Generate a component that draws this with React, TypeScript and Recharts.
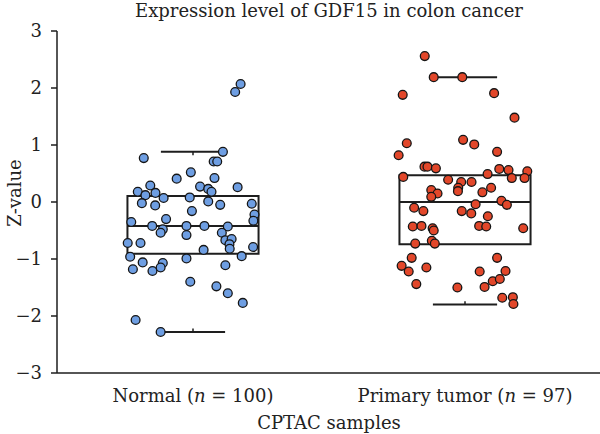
import React from "react";
import {
  ScatterChart,
  Scatter,
  XAxis,
  YAxis,
  ReferenceArea,
  ReferenceLine,
  Label,
} from "recharts";

// Sample groups shown along the x axis
const categories = ["Normal", "Primary tumor"];
const sampleSizes = [100, 97];
const categoryCenters = [0.5, 1.5];

// Y axis ticks
const yTicks = [-3, -2, -1, 0, 1, 2, 3];

// Normal tissue: horizontal jitter (category units) and z-values
const normalJitter = [
  0.175, 0.155, 0.11, -0.181, 0.076, 0.089, -0.008, -0.06, 0.079, -0.157,
  -0.203, -0.175, -0.138, -0.108, 0.026, 0.056, 0.068, 0.164, -0.012, -0.188,
  -0.139, 0.056, 0.1, 0.216, -0.004, 0.226, 0.222, -0.227, -0.099, -0.15,
  -0.024, 0.042, 0.128, -0.111, -0.119, 0.106, -0.024, -0.24, -0.193, 0.119,
  0.142, 0.134, 0.135, 0.221, 0.039, -0.231, -0.024, 0.179, -0.185, -0.111,
  -0.221, -0.149, -0.119, 0.119, -0.01, 0.086, 0.128, 0.183, -0.211, -0.119,
];
const normalZ = [
  2.07, 1.93, 0.88, 0.77, 0.71, 0.71, 0.52, 0.41, 0.42, 0.29,
  0.18, 0.12, 0.16, 0.07, 0.27, 0.23, 0.18, 0.26, 0.08, -0.02,
  -0.06, 0.01, -0.05, -0.03, -0.16, -0.22, -0.33, -0.35, -0.3, -0.42,
  -0.42, -0.42, -0.43, -0.48, -0.54, -0.54, -0.58, -0.72, -0.72, -0.67,
  -0.65, -0.74, -0.82, -0.79, -0.84, -0.96, -0.99, -0.95, -1.06, -1.07,
  -1.18, -1.21, -1.15, -1.11, -1.4, -1.48, -1.6, -1.77, -2.07, -2.28,
];

// Primary tumor: horizontal jitter (category units) and z-values
const tumorJitter = [
  -0.148, -0.115, -0.01, -0.229, 0.107, 0.182, -0.214, -0.244, -0.007, 0.034,
  0.118, -0.149, -0.138, -0.107, 0.126, 0.16, 0.229, -0.227, 0.083, 0.172,
  0.219, -0.062, -0.014, 0.024, -0.025, -0.026, -0.124, -0.101, -0.124, 0.064,
  0.096, 0.134, 0.154, 0.039, -0.187, -0.153, -0.012, 0.023, 0.084, -0.192,
  -0.16, -0.119, -0.115, 0.052, 0.078, 0.214, -0.122, -0.111, -0.183, -0.196,
  0.118, -0.233, -0.207, -0.142, 0.054, 0.149, 0.102, 0.128, -0.179, -0.028,
  0.072, 0.137, 0.176, 0.178,
];
const tumorZ = [
  2.56, 2.19, 2.19, 1.88, 1.91, 1.48, 1.03, 0.82, 1.09, 1.01,
  0.88, 0.62, 0.62, 0.59, 0.58, 0.56, 0.54, 0.44, 0.49, 0.42,
  0.42, 0.39, 0.35, 0.35, 0.25, 0.19, 0.21, 0.15, 0.09, 0.17,
  0.25, 0.02, -0.05, -0.04, -0.1, -0.16, -0.16, -0.2, -0.25, -0.43,
  -0.42, -0.46, -0.5, -0.42, -0.43, -0.46, -0.68, -0.73, -0.73, -0.98,
  -0.98, -1.12, -1.22, -1.15, -1.22, -1.21, -1.39, -1.35, -1.44, -1.5,
  -1.49, -1.68, -1.67, -1.79,
];

// Box summaries: [lower whisker, Q1, median, Q3, upper whisker]
const normalBox = [-2.28, -0.91, -0.42, 0.105, 0.88];
const tumorBox = [-1.8, -0.74, 0.0, 0.47, 2.19];

const BOX_HALF = 0.241;
const CAP_HALF = 0.118;
const CAP_TICK = 0.06;

const FONT = "'DejaVu Serif', serif";
const FONT_SIZE = 18;
const INK = "#1e1e1e";

const toPoints = (center: number, jitter: number[], z: number[]) =>
  z.map((v, i) => ({ x: center + jitter[i], y: v }));

const normalData = toPoints(categoryCenters[0], normalJitter, normalZ);
const tumorData = toPoints(categoryCenters[1], tumorJitter, tumorZ);

const dot = (fill: string) => (props: any) =>
  (
    <circle
      cx={props.cx}
      cy={props.cy}
      r={4.4}
      fill={fill}
      stroke="#151515"
      strokeWidth={1.3}
    />
  );

const fmtY = (v: number) => (v < 0 ? `\u2212${Math.abs(v)}` : `${v}`);

const XTick = (props: any) => {
  const { x, y, payload } = props;
  const idx = categoryCenters.indexOf(payload.value);
  if (idx < 0) return null;
  return (
    <text
      x={x}
      y={y}
      dy={21}
      textAnchor="middle"
      fill="#222"
      fontSize={FONT_SIZE}
      fontFamily={FONT}
    >
      {categories[idx]} (<tspan fontStyle="italic">n</tspan> = {sampleSizes[idx]})
    </text>
  );
};

const boxElements = (center: number, box: number[], key: string) => {
  const [lo, q1, med, q3, hi] = box;
  const line = { stroke: INK, strokeWidth: 2 };
  return [
    <ReferenceArea
      key={`${key}-box`}
      x1={center - BOX_HALF}
      x2={center + BOX_HALF}
      y1={q1}
      y2={q3}
      fill="none"
      fillOpacity={0}
      stroke={INK}
      strokeWidth={2}
      strokeOpacity={1}
    />,
    <ReferenceLine
      key={`${key}-med`}
      segment={[
        { x: center - BOX_HALF, y: med },
        { x: center + BOX_HALF, y: med },
      ]}
      {...line}
    />,
    <ReferenceLine
      key={`${key}-hi`}
      segment={[
        { x: center - CAP_HALF, y: hi },
        { x: center + CAP_HALF, y: hi },
      ]}
      {...line}
    />,
    <ReferenceLine
      key={`${key}-hi-tick`}
      segment={[
        { x: center, y: hi },
        { x: center, y: hi - CAP_TICK },
      ]}
      stroke={INK}
      strokeWidth={1.5}
    />,
    <ReferenceLine
      key={`${key}-lo`}
      segment={[
        { x: center - CAP_HALF, y: lo },
        { x: center + CAP_HALF, y: lo },
      ]}
      {...line}
    />,
    <ReferenceLine
      key={`${key}-lo-tick`}
      segment={[
        { x: center, y: lo },
        { x: center, y: lo + CAP_TICK },
      ]}
      stroke={INK}
      strokeWidth={1.5}
    />,
  ];
};

export default function App() {
  return (
    <div
      style={{
        position: "absolute",
        left: 0,
        top: 0,
        width: 600,
        height: 434,
        overflow: "hidden",
        background: "#fff",
        fontFamily: FONT,
      }}
    >
      <div
        style={{
          position: "absolute",
          left: 57,
          top: 0,
          width: 544,
          textAlign: "center",
          fontSize: FONT_SIZE,
          lineHeight: "22px",
          color: "#222",
          fontFamily: FONT,
        }}
      >
        Expression level of GDF15 in colon cancer
      </div>
      <ScatterChart
        width={601}
        height={434}
        margin={{ top: 31, right: 0, bottom: 0, left: 0 }}
      >
        <XAxis
          type="number"
          dataKey="x"
          domain={[0, 2]}
          ticks={categoryCenters}
          tick={<XTick />}
          tickLine={false}
          axisLine={{ stroke: INK, strokeWidth: 1.5 }}
          height={61}
          interval={0}
        >
          <Label
            content={() => (
              <text
                x={329}
                y={429}
                textAnchor="middle"
                fill="#222"
                fontSize={FONT_SIZE}
                fontFamily={FONT}
              >
                CPTAC samples
              </text>
            )}
          />
        </XAxis>
        <YAxis
          type="number"
          dataKey="y"
          domain={[-3, 3]}
          ticks={yTicks}
          tickFormatter={fmtY}
          width={57}
          tickSize={6}
          tickMargin={9}
          tick={{ fill: "#222", fontSize: FONT_SIZE, fontFamily: FONT }}
          tickLine={{ stroke: INK, strokeWidth: 1.5 }}
          axisLine={{ stroke: INK, strokeWidth: 1.5 }}
          interval={0}
        >
          <Label
            content={() => (
              <text
                x={21}
                y={193}
                transform="rotate(-90 21 193)"
                textAnchor="middle"
                fill="#222"
                fontSize={FONT_SIZE}
                fontFamily={FONT}
              >
                Z-value
              </text>
            )}
          />
        </YAxis>
        {boxElements(categoryCenters[0], normalBox, "normal")}
        {boxElements(categoryCenters[1], tumorBox, "tumor")}
        <Scatter
          data={normalData}
          shape={dot("#6e9ee2")}
          isAnimationActive={false}
        />
        <Scatter
          data={tumorData}
          shape={dot("#e2472a")}
          isAnimationActive={false}
        />
      </ScatterChart>
    </div>
  );
}
